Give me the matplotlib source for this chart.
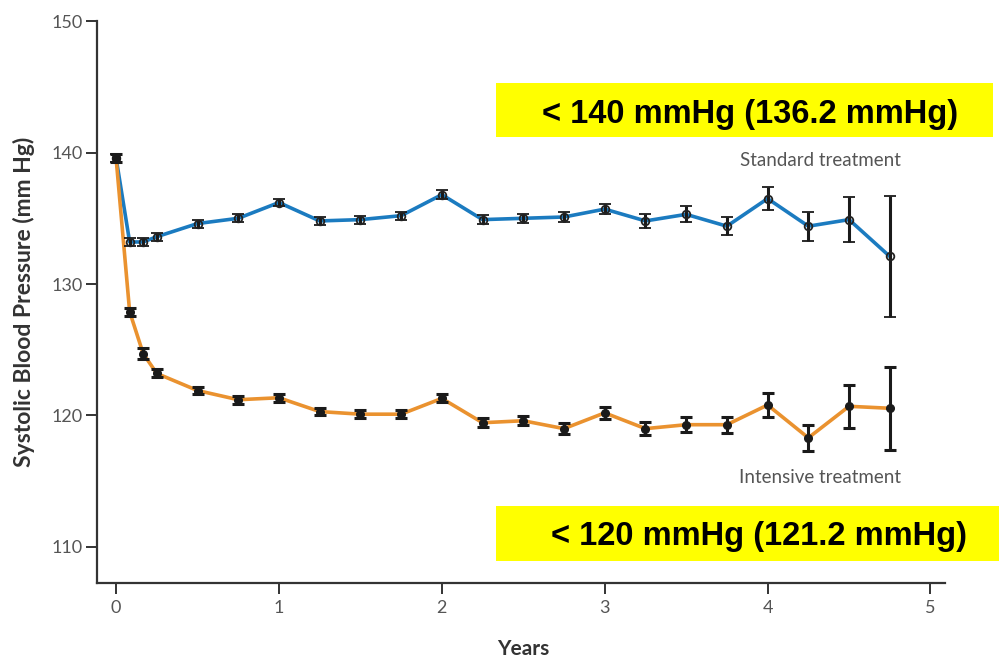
import numpy as np
import matplotlib
matplotlib.use("Agg")
import matplotlib.pyplot as plt

# visit times in years (monthly for first quarter, then quarterly)
years = [0, 1/12, 2/12, 0.25, 0.5, 0.75, 1.0, 1.25, 1.5, 1.75, 2.0, 2.25,
         2.5, 2.75, 3.0, 3.25, 3.5, 3.75, 4.0, 4.25, 4.5, 4.75]

standard_sbp = [139.6, 133.2, 133.2, 133.6, 134.6, 135.0, 136.2, 134.8, 134.9, 135.2,
                136.8, 134.9, 135.0, 135.1, 135.7, 134.8, 135.3, 134.4, 136.5, 134.4,
                134.9, 132.1]
standard_err = [0.3, 0.3, 0.3, 0.3, 0.3, 0.3, 0.3, 0.3, 0.3, 0.3,
                0.35, 0.35, 0.35, 0.35, 0.4, 0.55, 0.6, 0.7, 0.9, 1.1,
                1.7, 4.6]

intensive_sbp = [139.6, 127.9, 124.7, 123.2, 121.9, 121.2, 121.35, 120.3, 120.1, 120.1,
                 121.3, 119.45, 119.6, 119.0, 120.2, 119.0, 119.3, 119.3, 120.8, 118.3,
                 120.7, 120.55]
intensive_err = [0.3, 0.3, 0.4, 0.3, 0.3, 0.3, 0.3, 0.3, 0.3, 0.3,
                 0.3, 0.35, 0.35, 0.4, 0.45, 0.5, 0.55, 0.6, 0.9, 1.0,
                 1.65, 3.15]

x_ticks = [0, 1, 2, 3, 4, 5]
y_ticks = [110, 120, 130, 140, 150]

BLUE = "#1b7bc0"
ORANGE = "#ea922f"
GRAY = "#555555"

fig = plt.figure(figsize=(9.99, 6.6), dpi=100)
ax = fig.add_axes([0.0971, 0.1167, 0.849, 0.8513])

ax.plot(years, standard_sbp, color=BLUE, lw=2.6, zorder=2)
ax.plot(years, intensive_sbp, color=ORANGE, lw=2.6, zorder=2)
ax.errorbar(years, standard_sbp, yerr=standard_err, fmt="o", ms=5.5,
            mfc="none", mec="#222222", mew=1.3, ecolor="#1a1a1a",
            elinewidth=2.2, capsize=4, capthick=2.2, zorder=3)
ax.errorbar(years, intensive_sbp, yerr=intensive_err, fmt="o", ms=5.5,
            mfc="#1a1a1a", mec="#1a1a1a", ecolor="#1a1a1a",
            elinewidth=2.2, capsize=4, capthick=2.2, zorder=3)

ax.set_xlim(-0.117, 5.09)
ax.set_ylim(107.26, 150)
ax.set_xticks(x_ticks)
ax.set_yticks(y_ticks)
ax.spines["top"].set_visible(False)
ax.spines["right"].set_visible(False)
for s in ("left", "bottom"):
    ax.spines[s].set_linewidth(1.6)
    ax.spines[s].set_color("#333333")
ax.tick_params(direction="out", length=8, width=1.4, color="#333333",
               labelcolor=GRAY, labelsize=13)
ax.tick_params(axis="y", pad=2)
ax.tick_params(axis="x", pad=4)
for lab in ax.get_yticklabels() + ax.get_xticklabels():
    lab.set_family("Lato")

ax.set_ylabel("Systolic Blood Pressure (mm Hg)", fontsize=16.5, color="#333333",
              family="Lato", fontweight="bold", labelpad=12)
# x label sits right at the bottom edge, as in the original
fig.text((116 + 2.5 * 162.8) / 999, 5 / 660, "Years", ha="center", va="baseline",
         fontsize=15, color="#333333", family="Lato", fontweight="bold")

ax.text(4.82, 139.43, "Standard treatment", ha="right", va="center",
        fontsize=13.5, color=GRAY, family="Lato")
ax.text(4.82, 115.3, "Intensive treatment", ha="right", va="center",
        fontsize=13.5, color=GRAY, family="Lato")

fig.patches.append(plt.Rectangle((496/999, 1 - 137/660), 497/999, 54/660,
                                 transform=fig.transFigure, facecolor="#ffff00",
                                 edgecolor="none", zorder=5))
fig.patches.append(plt.Rectangle((496/999, 1 - 561/660), 503/999, 55/660,
                                 transform=fig.transFigure, facecolor="#ffff00",
                                 edgecolor="none", zorder=5))
fig.text(750/999, 1 - 114/660, "< 140 mmHg (136.2 mmHg)", ha="center", va="center",
         fontsize=23.5, fontweight="bold", family="Liberation Sans", zorder=6)
fig.text(759/999, 1 - 537/660, "< 120 mmHg (121.2 mmHg)", ha="center", va="center",
         fontsize=23.5, fontweight="bold", family="Liberation Sans", zorder=6)

fig.savefig("out.png", dpi=100)
